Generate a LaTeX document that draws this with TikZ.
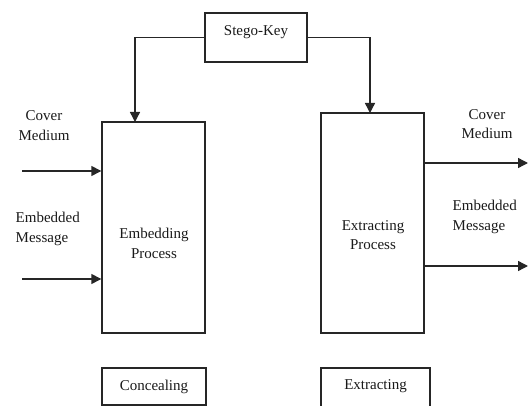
\documentclass[tikz,border=0pt]{standalone}
\usepackage{fontspec}
\setmainfont{Liberation Serif}
\usetikzlibrary{arrows.meta}
\begin{document}
\begin{tikzpicture}[x=1pt,y=-1pt,
  line width=1.4pt,
  box/.style={draw=black!85, line width=1.4pt, inner sep=0pt},
  lbl/.style={font=\fontsize{15}{19.5}\selectfont, inner sep=0pt, text=black!90},
  arr/.style={draw=black!85, line width=1.4pt, -{Triangle[length=10pt,width=10pt]}}]
\useasboundingbox (0,0) rectangle (528,406);
\begin{scope}
\clip (0,0) rectangle (528,406);
% boxes
\node[box, lbl, minimum width=102pt, text height=23pt, text depth=26pt, inner ysep=0pt] (key) at (256,37.5) {Stego-Key};
\node[box, minimum width=103pt, minimum height=211pt] (emb) at (153.5,227.5) {};
\node[box, minimum width=103pt, minimum height=220pt] (ext) at (372.5,223) {};
\node[lbl, align=center] (embtxt) at (154,243.5) {Embedding\\Process};
\node[lbl, align=center] (exttxt) at (373,235) {Extracting\\Process};
\node[box, lbl, minimum width=104pt, minimum height=37pt] (conc) at (154,386.5) {Concealing};
\node[box, lbl, minimum width=109pt, text height=21pt, text depth=23pt, inner ysep=0pt] (extr) at (375.5,390) {Extracting};
% labels
\node[lbl, align=center] (cml) at (44,125.5) {Cover\\Medium};
\node[lbl, align=left, anchor=west] (eml) at (15,229) {Embedded\\Message};
\node[lbl, align=center] (cmr) at (487,124) {Cover\\Medium};
\node[lbl, align=left, anchor=west] (emr) at (452,217) {Embedded\\Message};
% connector coordinates
\coordinate (embin) at (135,122);
\coordinate (extin) at (370,113);
\coordinate (in1) at (22,171);
\coordinate (in2) at (22,279);
\coordinate (out1) at (528,163);
\coordinate (out2) at (528,266);
% connectors
\draw[arr] (key.west) -| (embin);
\draw[arr] (key.east) -| (extin);
\draw[arr] (in1) -- (in1 -| emb.west);
\draw[arr] (in2) -- (in2 -| emb.west);
\draw[arr] (out1 -| ext.east) -- (out1);
\draw[arr] (out2 -| ext.east) -- (out2);
\end{scope}
\end{tikzpicture}
\end{document}
